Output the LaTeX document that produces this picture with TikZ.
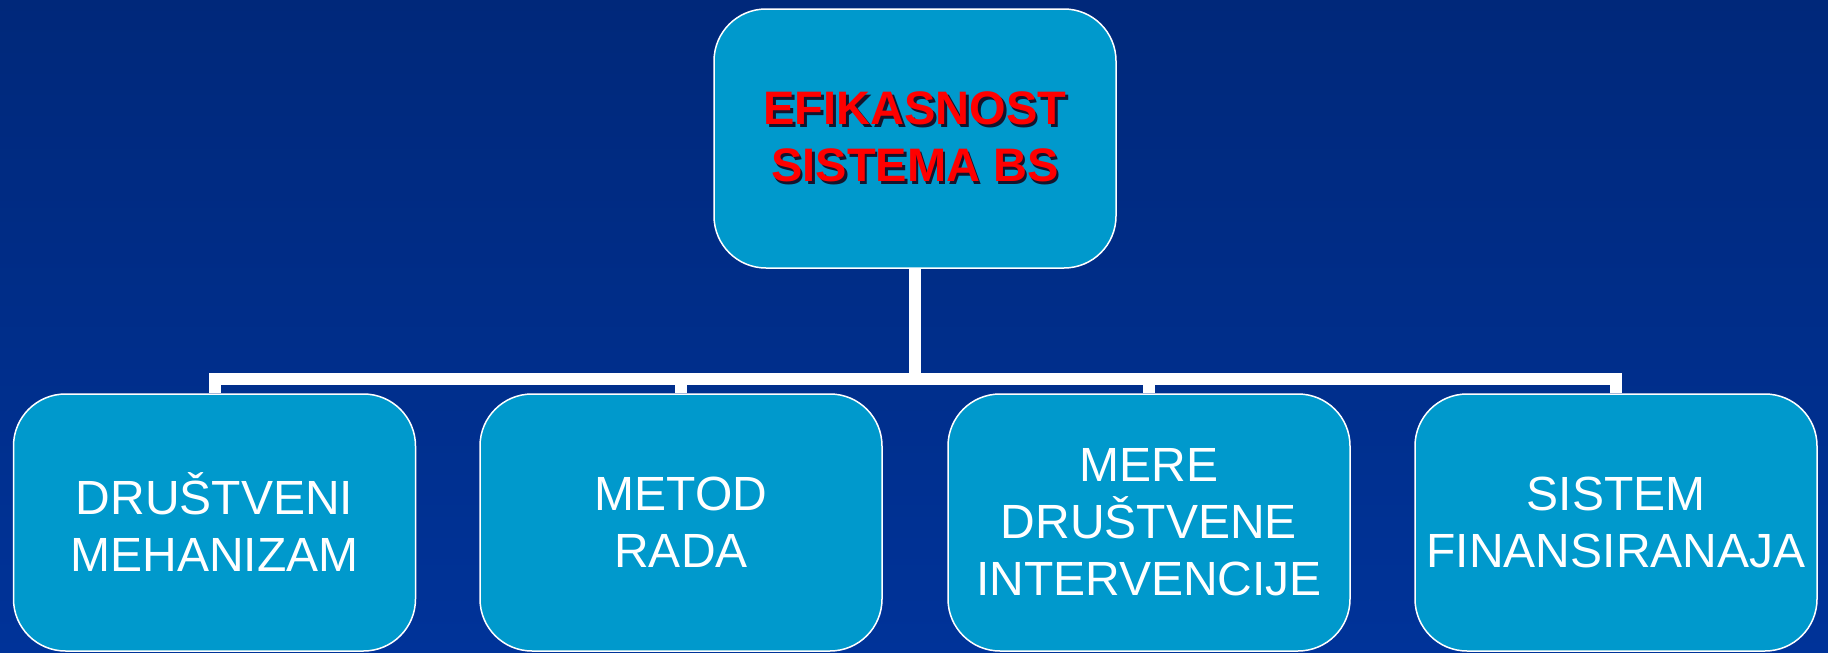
\documentclass[tikz,border=0pt]{standalone}
\usepackage{fontspec}
\setmainfont{Liberation Sans}
\usetikzlibrary{positioning}
\definecolor{boxblue}{RGB}{0,153,204}
\definecolor{navytop}{RGB}{0,40,122}
\definecolor{navybottom}{RGB}{0,51,153}
\definecolor{titlered}{RGB}{255,0,0}
\definecolor{shadowdark}{RGB}{20,20,45}
\newcommand{\redshadow}[1]{\makebox[0pt][l]{\hspace{2.5pt}\raisebox{-2.5pt}{\color{shadowdark}#1}}{\color{titlered}#1}}

\begin{document}
\begin{tikzpicture}[x=1pt,y=-1pt,
    box/.style={draw=white, line width=1.5pt, fill=boxblue, rounded corners=52pt,
        minimum width=402pt, minimum height=257pt, inner sep=0pt, align=center,
        text=white, font=\fontsize{48}{57}\selectfont},
    conn/.style={draw=white, line width=12pt}]
            %Background
            \fill[top color=navytop, bottom color=navybottom] (0,0) rectangle (1828,653);
            \useasboundingbox (0,0) rectangle (1828,653);

            %Nodes
            \node[box, minimum height=259pt, font=\fontsize{47}{57}\selectfont\bfseries] (top) at (915,138.5)
                {\redshadow{EFIKASNOST}\\\redshadow{SISTEMA BS}};
            \node[box] (mech) at (214.5,522.5) {DRUŠTVENI\\MEHANIZAM};
            \node[box] (method) at (681,522.5) {METOD\\RADA};
            \node[box] (measures) at (1149,522.5) {MERE\\DRUŠTVENE\\INTERVENCIJE};
            \node[box] (finance) at (1616,522.5) {SISTEM\\FINANSIRANAJA};
            \coordinate (bus) at (915,379);

            %Lines
            \draw[conn] (top.south) -- (bus) -| (mech.north);
            \draw[conn] (top.south) -- (bus) -| (method.north);
            \draw[conn] (top.south) -- (bus) -| (measures.north);
            \draw[conn] (top.south) -- (bus) -| (finance.north);
        \end{tikzpicture}
\end{document}
